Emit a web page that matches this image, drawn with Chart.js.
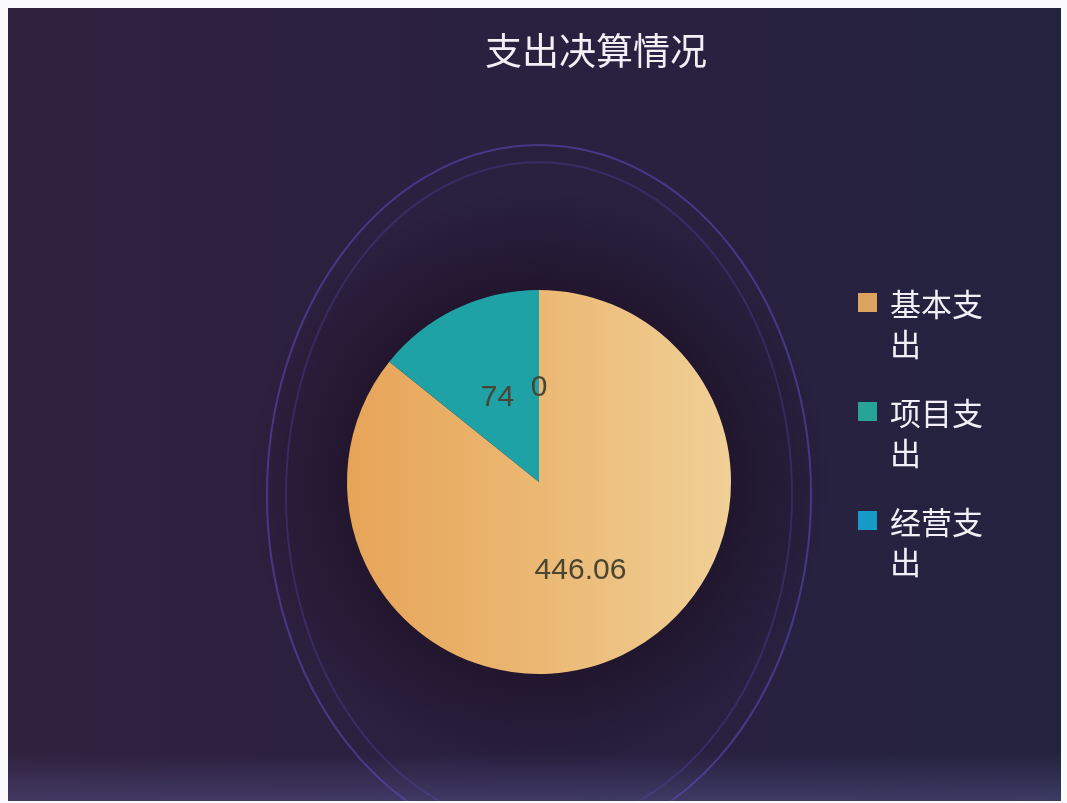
<!DOCTYPE html>
<html>
<head>
<meta charset="utf-8">
<title>支出决算情况</title>
<script src="https://cdn.jsdelivr.net/npm/chart.js@4/dist/chart.umd.min.js"></script>
<style>
  html, body { margin: 0; padding: 0; background: #fbfafc; }
  #wrap {
    position: absolute;
    left: 8px; top: 8px;
    width: 1053px; height: 793px;
    overflow: hidden;
    background:
      linear-gradient(to bottom, rgba(0,0,0,0) 94%, rgba(84,82,136,0.5) 100%),
      linear-gradient(to right, #30213e 0%, #2a2040 45%, #24233f 100%);
    font-family: "Noto Sans CJK SC", sans-serif;
    color: #f2f0f6;
  }
  #chartBox { position: absolute; left: 0; top: 0; width: 1053px; height: 793px; }
  #title {
    position: absolute;
    left: 588px; top: 19px;
    transform: translateX(-50%);
    font-size: 37px; line-height: 44px;
    white-space: nowrap;
  }
  #legend {
    position: absolute;
    left: 850px; top: 275px;
    margin: 0; padding: 0;
    list-style: none;
  }
  #legend li {
    position: relative;
    padding-left: 32px;
    margin-bottom: 29px;
    width: 96px;
    font-size: 31px; line-height: 40px;
  }
  #legend li span {
    position: absolute;
    left: 0; top: 10px;
    width: 19px; height: 19px;
  }
</style>
</head>
<body>
<div id="wrap">
  <div id="chartBox"><canvas id="pie"></canvas></div>
  <div id="title">支出决算情况</div>
  <ul id="legend"></ul>
</div>
<script>
  // expenditure breakdown
  const categories = ['基本支出', '项目支出', '经营支出'];
  const amounts = [446.06, 74, 0];
  const sliceColors = ['#ebb670', '#1fa2a5', '#1698c7'];
  const legendColors = ['#dca45e', '#27a398', '#169bc9'];
  const pieRadius = 192;

  // legend list
  const legend = document.getElementById('legend');
  categories.forEach((name, i) => {
    const li = document.createElement('li');
    li.innerHTML = `<span style="background:${legendColors[i]}"></span>${name}`;
    legend.appendChild(li);
  });

  // yellow slice fades from orange (left) to pale (right)
  function sliceFill(c) {
    const area = c.chart.chartArea;
    if (c.dataIndex !== 0 || !area) return sliceColors[c.dataIndex];
    const cx = (area.left + area.right) / 2;
    const g = c.chart.ctx.createLinearGradient(cx - pieRadius, 0, cx + pieRadius, 0);
    g.addColorStop(0, '#e7a458');
    g.addColorStop(0.5, '#ebb873');
    g.addColorStop(1, '#f0d097');
    return g;
  }

  // dark halo + thin rings behind the pie
  const backdrop = {
    id: 'backdrop',
    beforeDatasetsDraw(chart) {
      const arc = chart.getDatasetMeta(0).data[0];
      if (!arc) return;
      const ctx = chart.ctx;
      const x = arc.x, y = arc.y, r = arc.outerRadius;
      ctx.save();
      const halo = ctx.createRadialGradient(x, y, r * 0.9, x, y, r * 1.5);
      halo.addColorStop(0, 'rgba(24,8,22,0.5)');
      halo.addColorStop(1, 'rgba(24,8,22,0)');
      ctx.fillStyle = halo;
      ctx.beginPath();
      ctx.arc(x, y, r * 1.55, 0, Math.PI * 2);
      ctx.fill();

      ctx.lineWidth = 2;
      ctx.strokeStyle = 'rgba(100,72,196,0.55)';
      ctx.beginPath();
      ctx.ellipse(x, y + r * 0.068, r * 1.417, r * 1.823, 0, 0, Math.PI * 2);
      ctx.stroke();
      ctx.strokeStyle = 'rgba(92,74,186,0.3)';
      ctx.beginPath();
      ctx.ellipse(x, y + r * 0.068, r * 1.318, r * 1.734, 0, 0, Math.PI * 2);
      ctx.stroke();
      ctx.restore();
    }
  };

  // value text at the middle of each slice
  const valueLabels = {
    id: 'valueLabels',
    afterDatasetsDraw(chart) {
      const ctx = chart.ctx;
      const meta = chart.getDatasetMeta(0);
      ctx.save();
      ctx.font = '30px "Liberation Sans", Arial, sans-serif';
      ctx.fillStyle = '#4a4433';
      ctx.textAlign = 'center';
      ctx.textBaseline = 'middle';
      meta.data.forEach((arc, i) => {
        const p = arc.getCenterPoint();
        ctx.fillText(String(amounts[i]), p.x, p.y + 2);
      });
      ctx.restore();
    }
  };

  new Chart(document.getElementById('pie'), {
    type: 'pie',
    data: {
      labels: categories,
      datasets: [{
        data: amounts,
        backgroundColor: sliceFill,
        borderWidth: 0,
        radius: pieRadius
      }]
    },
    options: {
      responsive: true,
      maintainAspectRatio: false,
      animation: false,
      layout: { padding: { left: 9, right: 0, top: 160, bottom: 5 } },
      plugins: {
        legend: { display: false },
        tooltip: { enabled: false }
      }
    },
    plugins: [backdrop, valueLabels]
  });
</script>
</body>
</html>
